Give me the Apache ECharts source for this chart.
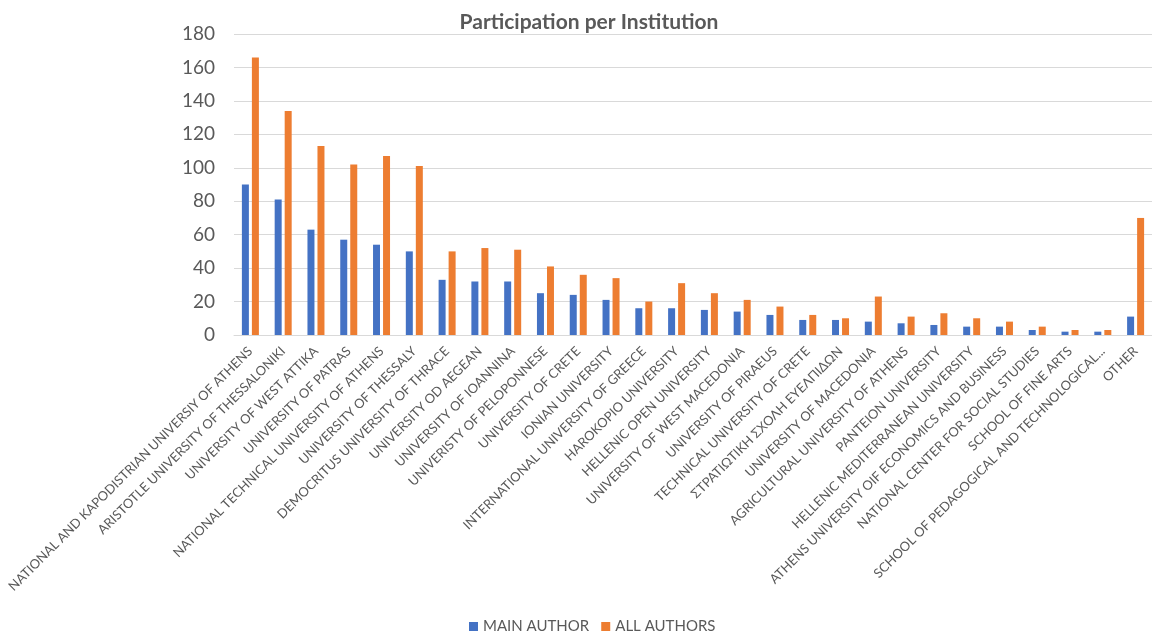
<!DOCTYPE html>
<html><head><meta charset="utf-8">
<script src="https://cdn.jsdelivr.net/npm/echarts@6/dist/echarts.min.js"></script>
<style>html,body{margin:0;padding:0;background:#fff}#c{width:1152px;height:632px}</style>
</head><body><div id="c"></div>
<script>
const categories = [
  "NATIONAL AND KAPODISTRIAN UNIVERSIY OF ATHENS",
  "ARISTOTLE UNIVERSITY OF THESSALONIKI",
  "UNIVERSITY OF WEST ATTIKA",
  "UNIVERSITY OF PATRAS",
  "NATIONAL TECHNICAL UNIVERSITY OF ATHENS",
  "UNIVERSITY OF THESSALY",
  "DEMOCRITUS UNIVERSITY OF THRACE",
  "UNIVERSITY OD AEGEAN",
  "UNIVERSITY OF IOANNINA",
  "UNIVERISTY OF PELOPONNESE",
  "UNIVERSITY OF CRETE",
  "IONIAN UNIVERSITY",
  "INTERNATIONAL UNIVERSITY OF GREECE",
  "HAROKOPIO UNIVERSITY",
  "HELLENIC OPEN UNIVERSITY",
  "UNIVERSITY OF WEST MACEDONIA",
  "UNIVERSITY OF PIRAEUS",
  "TECHNICAL UNIVERSITY OF CRETE",
  "ΣΤΡΑΤΙΩΤΙΚΗ ΣΧΟΛΗ ΕΥΕΛΠΙΔΩΝ",
  "UNIVERSITY OF MACEDONIA",
  "AGRICULTURAL UNIVERSITY OF ATHENS",
  "PANTEION UNIVERSITY",
  "HELLENIC MEDITERRANEAN UNIVERSITY",
  "ATHENS UNIVERSITY OIF ECONOMICS AND BUSINESS",
  "NATIONAL CENTER FOR SOCIAL STUDIES",
  "SCHOOL OF FINE ARTS",
  "SCHOOL OF PEDAGOGICAL AND TECHNOLOGICAL...",
  "OTHER"
];
const mainAuthor = [90,81,63,57,54,50,33,32,32,25,24,21,16,16,15,14,12,9,9,8,7,6,5,5,3,2,2,11];
const allAuthors = [166,134,113,102,107,101,50,52,51,41,36,34,20,31,25,21,17,12,10,23,11,13,10,8,5,3,3,70];
const yTicks = [0,20,40,60,80,100,120,140,160,180];

const F = 'Lato, "Open Sans", sans-serif';
const chart = echarts.init(document.getElementById('c'), null, {renderer:'canvas'});
chart.setOption({
  animation:false,
  title:{text:'Participation per Institution', left:584, textAlign:'center', top:7,
    textStyle:{fontFamily:F, fontSize:21, fontWeight:'bold', color:'#595959'}},
  legend:{top:614, left:464, itemWidth:9, itemHeight:9, itemGap:12,
    icon:'rect', textStyle:{fontFamily:F, fontSize:15, color:'#595959'}},
  grid:{left:234, top:34, width:924, bottom:297, containLabel:false},
  xAxis:{type:'category', data:categories,
    axisLine:{lineStyle:{color:'#d9d9d9'}}, axisTick:{show:false},
    axisLabel:{interval:0, rotate:45, fontFamily:F, fontSize:13, color:'#595959', margin:14}},
  yAxis:{type:'value', min:yTicks[0], max:yTicks[yTicks.length-1], interval:20,
    axisLine:{show:false}, axisTick:{show:false},
    splitLine:{lineStyle:{color:'#d9d9d9'}},
    axisLabel:{fontFamily:F, fontSize:19, color:'#595959', margin:19}},
  series:[
    {name:'MAIN AUTHOR', type:'bar', data:mainAuthor, barWidth:7, barGap:'43%', itemStyle:{color:'#4472C4'}},
    {name:'ALL AUTHORS', type:'bar', data:allAuthors, barWidth:7, barGap:'43%', itemStyle:{color:'#ED7D31'}}
  ]
});
</script></body></html>
